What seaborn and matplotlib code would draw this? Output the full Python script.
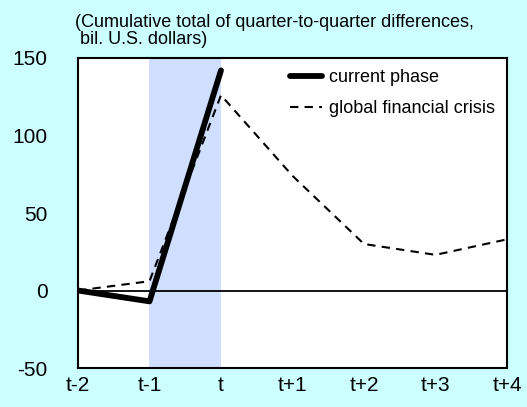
import numpy as np
import pandas as pd
import matplotlib
matplotlib.use("Agg")
import matplotlib.pyplot as plt
import seaborn as sns

quarters = ["t-2", "t-1", "t", "t+1", "t+2", "t+3", "t+4"]
current_phase = [0, -7, 142]
global_crisis = [0, 6, 126, 74, 30, 23, 33]
shade_from, shade_to = "t-1", "t"

sns.set_style("white")
plt.rcParams["font.family"] = ["Liberation Sans", "DejaVu Sans"]
plt.rcParams["axes.unicode_minus"] = False
plt.rcParams["text.color"] = "black"

bg = "#CCFFFF"
fig = plt.figure(figsize=(5.27, 4.07), dpi=100, facecolor=bg)
ax = fig.add_axes([0.148, 0.0958, 0.814, 0.7617])
ax.set_facecolor("white")

pos = {q: i for i, q in enumerate(quarters)}
cur = pd.DataFrame({"x": [pos[q] for q in quarters[:len(current_phase)]], "y": current_phase})
gfc = pd.DataFrame({"x": [pos[q] for q in quarters], "y": global_crisis})

ax.axvspan(pos[shade_from], pos[shade_to], color="#D0DEFF", lw=0, zorder=0)
ax.axhline(0, color="black", lw=1.3, zorder=1)

sns.lineplot(data=cur, x="x", y="y", ax=ax, color="black", lw=4.2,
             solid_capstyle="round", label="current phase", zorder=3)
sns.lineplot(data=gfc, x="x", y="y", ax=ax, color="black", lw=1.5,
             dashes=False, linestyle=(0, (4, 3)), label="global financial crisis", zorder=2)

ax.set_xlim(0, len(quarters) - 1)
ax.set_ylim(-50, 150)
ax.set_xticks(range(len(quarters)))
ax.set_xticklabels(quarters)
ax.set_yticks([-50, 0, 50, 100, 150])
ax.set_xlabel("")
ax.set_ylabel("")
ax.tick_params(axis="both", length=0, labelsize=15, colors="black")
ax.tick_params(axis="y", pad=22)
ax.tick_params(axis="x", pad=6)
for s in ax.spines.values():
    s.set_color("black")
    s.set_linewidth(1.5)

leg = ax.legend(loc="upper left", bbox_to_anchor=(0.494, 0.965), frameon=False,
                borderpad=0, borderaxespad=0,
                fontsize=13, handlelength=1.8, handletextpad=0.35, labelspacing=0.8)

fig.text(0.142, 0.925, "(Cumulative total of quarter-to-quarter differences,\n bil. U.S. dollars)",
         fontsize=13, ha="left", va="center", linespacing=1.0)

fig.savefig("out.png", dpi=100, facecolor=bg)
